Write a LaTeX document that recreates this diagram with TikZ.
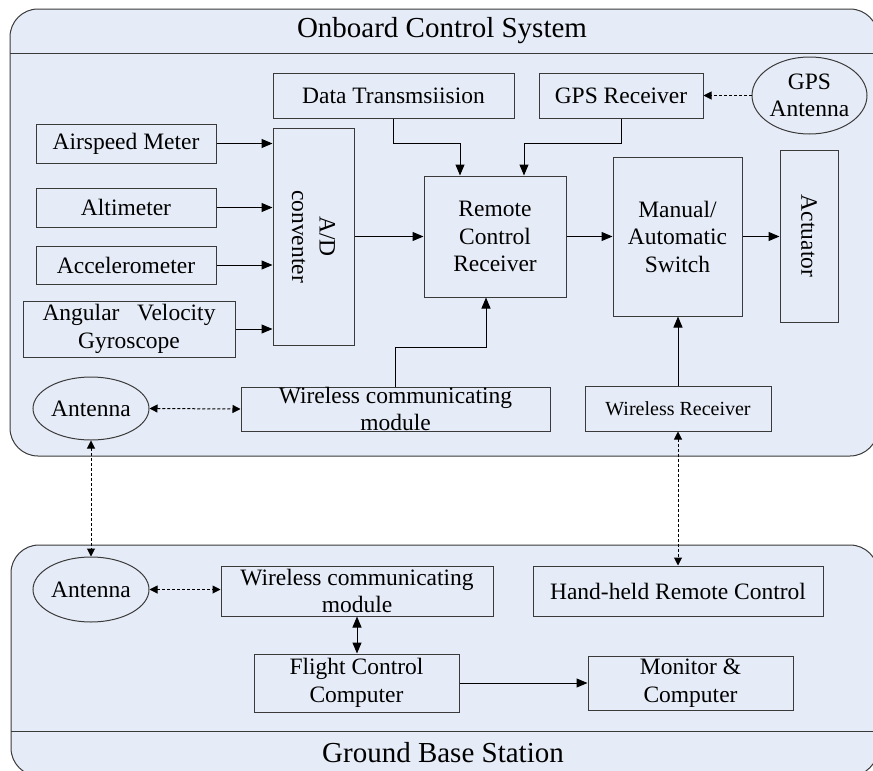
\documentclass[tikz,border=0pt]{standalone}
\usepackage{fontspec}
\setmainfont{Liberation Serif}
\usetikzlibrary{positioning,arrows.meta,shapes.geometric}
\definecolor{PanelBlue}{HTML}{E6ECF7}
\definecolor{LineGray}{HTML}{3A3A3A}

\begin{document}
\begin{tikzpicture}[x=1pt,y=-1pt,line width=1pt,
  every node/.style={font=\fontsize{23.5}{27.5}\selectfont},
  blk/.style={draw=LineGray, fill=PanelBlue, inner sep=0pt, align=center},
  oval/.style={blk, ellipse},
  ttl/.style={font=\fontsize{29}{32}\selectfont},
  arr/.style={draw=black, -{Triangle[length=11pt,width=9pt]}},
  darr/.style={draw=black, dash pattern=on 3pt off 2pt, {Triangle[length=8pt,width=8pt]}-{Triangle[length=8pt,width=8pt]}},
  sarr/.style={draw=black, dash pattern=on 3pt off 2pt, -{Triangle[length=8pt,width=8pt]}}]
  \fill[white] (0,0) rectangle (873,771);
  \clip (0,0) rectangle (873,771);
  % panels
  \draw[draw=LineGray, fill=PanelBlue, rounded corners=28pt] (10,9) rectangle (878,456);
  \draw[draw=LineGray] (10,53) -- (878,53);
  \node[ttl] (obtitle) at (442,31) {Onboard Control System};
  \draw[draw=LineGray, fill=PanelBlue, rounded corners=28pt] (11,545) rectangle (878,776);
  \draw[draw=LineGray] (11,731) -- (878,731);
  \node[ttl] (gbtitle) at (443,753) {Ground Base Station};

  % sensors and A/D
  \node[blk, minimum width=180pt, minimum height=39pt] (air) at (126,143.5) {Airspeed Meter};
  \node[blk, minimum width=180pt, minimum height=39pt] (alt) at (126,207.5) {Altimeter};
  \node[blk, minimum width=180pt, minimum height=38pt] (acc) at (126,265) {Accelerometer};
  \node[blk, minimum width=212pt, minimum height=56pt] (gyro) at (129,329) {Angular\ \ \ Velocity\\Gyroscope};
  \node[blk, minimum width=81pt, minimum height=217pt] (ad) at (313.5,236.5) {};
  \node[rotate=-90, align=center] (adtext) at (ad.center) {A/D\\conventer};

  % upper row
  \node[blk, minimum width=241pt, minimum height=45pt] (dt) at (393.5,95.5) {Data Transmsiision};
  \node[blk, minimum width=164pt, minimum height=45pt] (gps) at (621,95.5) {GPS Receiver};
  \node[oval, minimum width=115pt, minimum height=77pt] (gpsant) at (809.5,95.5) {GPS\\Antenna};

  % main chain
  \node[blk, minimum width=142pt, minimum height=121pt] (rcr) at (495,236.5) {Remote\\Control\\Receiver};
  \node[blk, minimum width=129pt, minimum height=159pt] (man) at (677.5,236.5) {Manual/\\Automatic\\Switch};
  \node[blk, minimum width=58pt, minimum height=172pt] (act) at (809,236) {};
  \node[rotate=-90] (acttext) at (act.center) {Actuator};

  % onboard wireless
  \node[oval, minimum width=116pt, minimum height=63pt] (ant1) at (91,408.5) {Antenna};
  \node[blk, minimum width=309pt, minimum height=44pt, inner ysep=-3pt] (wcm) at (395.5,409) {Wireless communicating\\module};
  \node[blk, minimum width=186pt, minimum height=45pt, font=\fontsize{20}{24}\selectfont] (wr) at (678,408.5) {Wireless Receiver};

  % ground station
  \node[oval, minimum width=116pt, minimum height=65pt] (ant2) at (91,589.5) {Antenna};
  \node[blk, minimum width=272pt, minimum height=50pt] (gwcm) at (357,591) {Wireless communicating\\module};
  \node[blk, minimum width=290pt, minimum height=50pt] (hh) at (678,591) {Hand-held Remote Control};
  \node[blk, minimum width=205pt, minimum height=58pt] (fcc) at (356.5,683) {Flight Control\\Computer};
  \node[blk, minimum width=205pt, minimum height=54pt] (mon) at (690.5,683) {Monitor \&\\Computer};

  % connectors
  \foreach \s in {air,alt,acc,gyro}
    \draw[arr] (\s.east) -- (\s.east -| ad.west);
  \draw[arr] (ad.east |- rcr.west) -- (rcr.west);
  \draw[arr] (dt.south) -- ++(0,25) -| ([xshift=-35pt]rcr.north);
  \draw[arr] (gps.south) -- ++(0,25) -| ([xshift=29pt]rcr.north);
  \draw[arr] (wcm.north) -- ++(0,-39) -| ([xshift=-9pt]rcr.south);
  \draw[arr] (rcr.east) -- (man.west);
  \draw[arr] (man.east) -- (man.east -| act.west);
  \draw[arr] (wr.north) -- (wr.north |- man.south);
  \draw[sarr] (gpsant.west) -- (gps.east);
  \draw[darr] (ant1.east) -- (wcm.west);
  \draw[darr] (ant1.south) -- (ant2.north);
  \draw[darr] (wr.south) -- (wr.south |- hh.north);
  \draw[darr] (ant2.east) -- (ant2.east -| gwcm.west);
  \draw[arr, {Triangle[length=11pt,width=9pt]}-{Triangle[length=11pt,width=9pt]}] (gwcm.south) -- (gwcm.south |- fcc.north);
  \draw[arr] (fcc.east) -- (mon.west);
\end{tikzpicture}
\end{document}
